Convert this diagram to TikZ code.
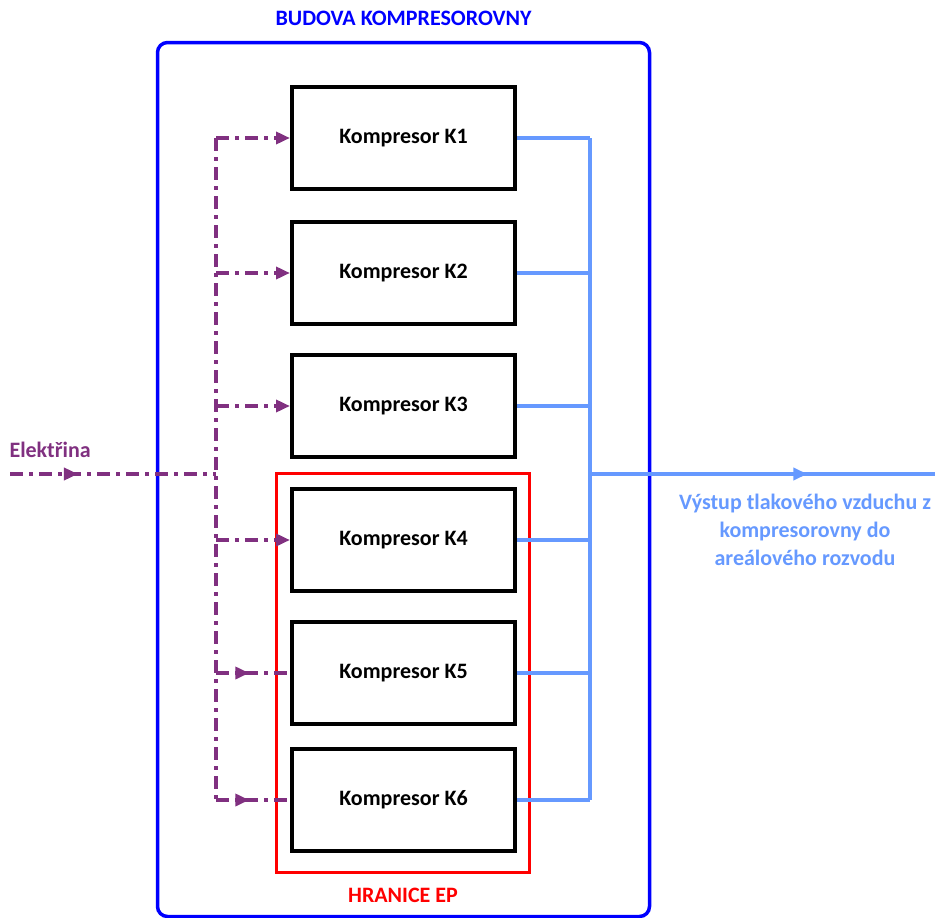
\documentclass[tikz,border=0pt]{standalone}
\usepackage{fontspec}
\setmainfont{Carlito}
\usetikzlibrary{arrows.meta,decorations.markings}
\definecolor{bldg}{RGB}{0,0,255}
\definecolor{elec}{RGB}{128,48,128}
\definecolor{air}{RGB}{102,153,255}
\definecolor{epred}{RGB}{255,0,0}
\tikzset{
  lbl/.style={font=\bfseries\fontsize{22}{28}\selectfont},
  comp/.style={draw=black, line width=4pt, minimum width=223pt, minimum height=102pt,
               inner sep=0pt, lbl},
  elecline/.style={draw=elec, line width=4pt, dash pattern=on 13pt off 6pt on 4pt off 6pt},
  airline/.style={draw=air, line width=3.5pt},
  midarrow/.style 2 args={postaction={decorate}, decoration={markings,
      mark=at position #1 with {\arrow{Triangle[length=14pt,width=12pt,fill=#2]}}}},
  tiparrow/.style={-{Triangle[length=14pt,width=12pt]}},
}
\begin{document}
\begin{tikzpicture}[x=1pt,y=-1pt]
\useasboundingbox (0,0) rectangle (935,918);

% building outline and its caption
\node (bldg) [draw=bldg, line width=3.5pt, rounded corners=10pt, minimum width=492pt,
      minimum height=874pt, inner sep=0pt] at (403.5,479.5) {};
\node (bldgtxt) [lbl, text=bldg] at (403.5,18) {BUDOVA KOMPRESOROVNY};

% energy-performance boundary
\node (ep) [draw=epred, line width=3.5pt, minimum width=253pt, minimum height=399pt,
      inner sep=0pt] at (403,673) {};
\node (eptxt) [lbl, text=epred] at (403,895) {HRANICE EP};

% compressors
\node (K1) [comp] at (403.5,138) {Kompresor K1};
\node (K2) [comp] at (403.5,273) {Kompresor K2};
\node (K3) [comp] at (403.5,406) {Kompresor K3};
\node (K4) [comp] at (403.5,540) {Kompresor K4};
\node (K5) [comp] at (403.5,673) {Kompresor K5};
\node (K6) [comp] at (403.5,800) {Kompresor K6};

% electricity supply
\coordinate (ein) at (10,474);
\coordinate (ejoin) at (216,474);
\coordinate (etop) at (216,138);
\coordinate (ebot) at (216,800);
\node (elabel) [lbl, text=elec, anchor=west] at (6,450) {Elektřina};
\draw[elecline, midarrow={0.33}{elec}] (ein) -- (ejoin);
\draw[elecline] (etop) -- (ebot);
\foreach \k in {K1,K2,K3,K4}
  \draw[elecline, tiparrow, elec] (\k.west -| etop) -- (\k.west);
\foreach \k in {K5,K6}
  \draw[elecline, midarrow={0.45}{elec}] (\k.west -| etop) -- (\k.west);

% compressed air collector
\coordinate (atop) at (590,138);
\coordinate (abot) at (590,800);
\coordinate (ajoin) at (590,474);
\coordinate (aout) at (935,474);
\foreach \k in {K1,K2,K3,K4,K5,K6}
  \draw[airline] (\k.east) -- (\k.east -| atop);
\draw[airline] (atop) -- (abot);
\draw[airline, midarrow={0.63}{air}] (ajoin) -- (aout);
\node (outtxt) [lbl, text=air, align=center] at (805,530)
  {Výstup tlakového vzduchu z\\kompresorovny do\\areálového rozvodu};
\end{tikzpicture}
\end{document}
